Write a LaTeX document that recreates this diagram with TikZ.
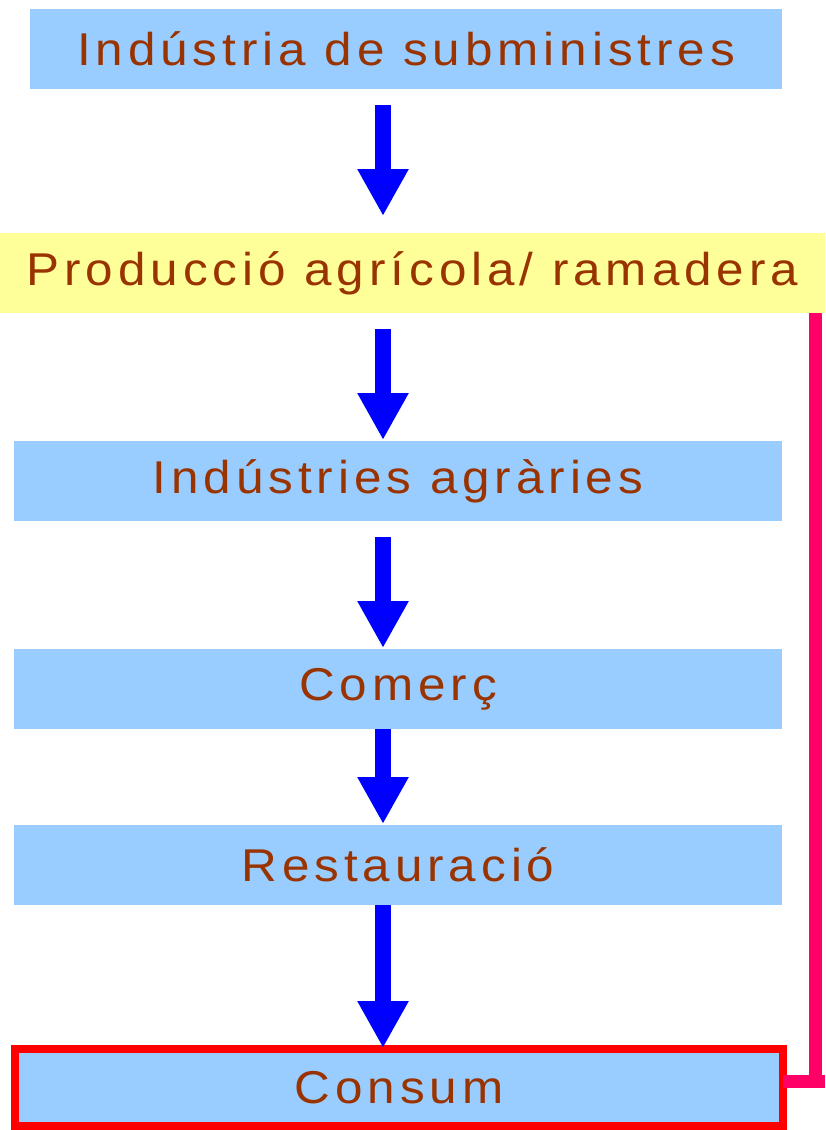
\documentclass[tikz,border=0pt]{standalone}
\usepackage{fontspec}
\setmainfont{Liberation Sans}[LetterSpace=10]
\usetikzlibrary{arrows.meta}
\definecolor{boxblue}{HTML}{99CCFF}
\definecolor{boxyellow}{HTML}{FFFF99}
\definecolor{txtbrown}{HTML}{993300}
\definecolor{arrblue}{HTML}{0000FF}
\definecolor{frame}{HTML}{FF0000}
\definecolor{linkpink}{HTML}{FF0066}
\newcommand\lbltxt[1]{\scalebox{1.074}[1]{#1}}
\begin{document}
\begin{tikzpicture}[x=1pt,y=-1pt,
  stagebox/.style={rectangle, fill=boxblue, inner sep=0pt, outer sep=0pt, anchor=north west,
    minimum height=80pt, text=txtbrown, font=\fontsize{46pt}{50pt}\selectfont},
  flowarrow/.style={draw=arrblue, line width=16pt, -{Triangle[width=48pt,length=47pt]}},
  pinkline/.style={draw=linkpink, line width=13pt}]
\useasboundingbox (0,0) rectangle (825,1130);
\node[stagebox, minimum width=752pt] (b1) at (30,9) {\lbltxt{Indústria de subministres}};
\node[stagebox, fill=boxyellow, minimum width=825pt] (b2) at (0,233) {\lbltxt{Producció agrícola/ ramadera}};
\node[stagebox, minimum width=768pt] (b3) at (14,441) {\lbltxt{Indústries agràries}};
\node[stagebox, minimum width=768pt] (b4) at (14,649) {\lbltxt{Comerç}};
\node[stagebox, minimum width=768pt] (b5) at (14,825) {\lbltxt{Restauració}};
\node[stagebox, minimum width=768pt, minimum height=77pt, draw=frame, line width=8pt] (b6) at (15,1049) {\lbltxt{Consum}};
\coordinate (ax) at (383,0);
\draw[flowarrow, shorten <=16pt, shorten >=17pt] (b1.south -| ax) -- (b2.north -| ax);
\draw[flowarrow, shorten <=16pt, shorten >=1pt] (b2.south -| ax) -- (b3.north -| ax);
\draw[flowarrow, shorten <=16pt, shorten >=1pt] (b3.south -| ax) -- (b4.north -| ax);
\draw[flowarrow, shorten >=1pt] (b4.south -| ax) -- (b5.north -| ax);
\draw[flowarrow, shorten >=1pt] (b5.south -| ax) -- (b6.north -| ax);
\coordinate (pk) at (815,1081);
\coordinate (pe) at (825,1081);
\draw[pinkline] (b2.south -| pk) -- (pk);
\draw[pinkline] (b6.east |- pk) -- (pe);
\end{tikzpicture}
\end{document}
